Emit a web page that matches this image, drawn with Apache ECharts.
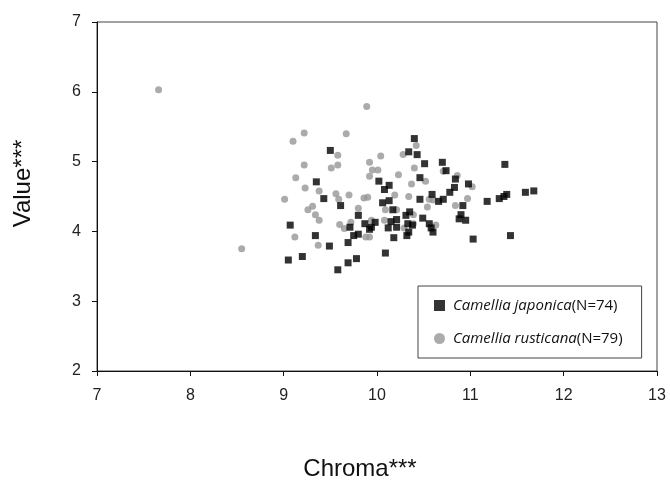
<!DOCTYPE html>
<html>
<head>
<meta charset="utf-8">
<script src="https://cdn.jsdelivr.net/npm/echarts@6/dist/echarts.min.js"></script>
<style>
html, body { margin: 0; padding: 0; background: #ffffff; }
#chart { width: 670px; height: 480px; }
</style>
</head>
<body>
<div id="chart"></div>
<script>
// Camellia japonica (Chroma, Value)
var japonicaChroma = [10.40, 9.50, 10.34, 10.43, 10.51, 10.70, 10.74, 9.35, 10.02, 10.13,
	10.08, 10.46, 10.84, 10.98, 9.43, 9.61, 10.06, 10.13, 10.46, 10.59,
	10.66, 10.71, 10.78, 10.83, 10.92, 10.17, 10.35, 10.31, 9.80, 9.98,
	10.15, 10.21, 10.49, 10.88, 10.95, 9.07, 9.71, 9.87, 9.92, 9.94,
	10.12, 10.21, 10.33, 10.38, 10.34, 10.56, 10.58, 10.60, 9.75, 9.80,
	9.34, 10.18, 10.32, 9.69, 9.49, 10.09, 9.20, 9.05, 9.78, 9.69,
	9.58, 11.37, 11.18, 11.31, 11.36, 11.39, 11.59, 11.68, 11.03, 11.43,
	10.90];
var japonicaValue = [5.33, 5.16, 5.14, 5.10, 4.97, 4.99, 4.87, 4.71, 4.72, 4.66,
	4.60, 4.77, 4.75, 4.68, 4.47, 4.37, 4.41, 4.44, 4.46, 4.53,
	4.43, 4.46, 4.56, 4.63, 4.37, 4.31, 4.28, 4.23, 4.23, 4.13,
	4.14, 4.17, 4.19, 4.18, 4.16, 4.09, 4.06, 4.11, 4.03, 4.06,
	4.05, 4.06, 4.11, 4.09, 3.99, 4.11, 4.05, 3.99, 3.94, 3.96,
	3.94, 3.91, 3.94, 3.84, 3.79, 3.69, 3.64, 3.59, 3.61, 3.55,
	3.45, 4.96, 4.43, 4.47, 4.50, 4.53, 4.56, 4.58, 3.89, 3.94,
	4.24];

// Camellia rusticana (Chroma, Value)
var rusticanaChroma = [7.66, 8.55, 9.01, 9.10, 9.22, 9.67, 9.58, 9.22, 9.51, 9.58,
	9.13, 9.23, 9.38, 9.56, 9.70, 9.59, 9.86, 9.90, 9.31, 9.26,
	9.34, 9.38, 9.80, 9.92, 10.04, 9.95, 10.01, 9.92, 10.23, 10.28,
	10.42, 10.40, 10.37, 10.52, 10.19, 10.34, 10.09, 10.21, 10.39, 10.54,
	10.56, 10.60, 10.84, 10.86, 10.71, 10.97, 9.60, 9.65, 9.72, 9.94,
	10.08, 9.88, 9.92, 9.12, 9.37, 10.29, 10.63, 9.89, 11.02, 10.39];
var rusticanaValue = [6.03, 3.75, 4.46, 5.29, 5.41, 5.40, 5.09, 4.95, 4.91, 4.95,
	4.77, 4.62, 4.58, 4.54, 4.52, 4.46, 4.48, 4.49, 4.36, 4.31,
	4.24, 4.16, 4.33, 4.99, 5.08, 4.88, 4.88, 4.79, 4.81, 5.10,
	5.23, 4.91, 4.68, 4.72, 4.52, 4.50, 4.31, 4.31, 4.24, 4.35,
	4.46, 4.45, 4.37, 4.80, 4.86, 4.47, 4.10, 4.04, 4.13, 4.16,
	4.16, 3.92, 3.92, 3.92, 3.80, 4.05, 4.09, 5.79, 4.64, 4.11];

var seriesNames = ['Camellia japonica', 'Camellia rusticana'];
var seriesN = [74, 79];

function pairs(xs, ys) {
	var res = [];
	for (var i = 0; i < xs.length; i++) {
		res.push([xs[i], ys[i]]);
	}
	return res;
}

var chart = echarts.init(document.getElementById('chart'));

var axisFont = {
	fontFamily: 'Liberation Sans',
	fontSize: 16,
	color: '#222'
};

var option = {
	backgroundColor: '#ffffff',
	animation: false,
	grid: {
		show: true,
		left: 97,
		right: 13,
		top: 22,
		bottom: 109,
		outerBoundsMode: 'none',
		borderColor: '#444',
		borderWidth: 1
	},
	xAxis: {
		type: 'value',
		min: 7,
		max: 13,
		interval: 1,
		name: 'Chroma***',
		nameLocation: 'middle',
		nameGap: 86,
		nameTextStyle: {
			fontFamily: 'Liberation Sans',
			fontSize: 24,
			color: '#111',
			padding: [0, 34, 0, 0]
		},
		axisLine: { lineStyle: { color: '#111', width: 1 } },
		axisTick: { inside: false, length: 5, lineStyle: { color: '#111' } },
		axisLabel: Object.assign({ margin: 17 }, axisFont),
		splitLine: { show: false }
	},
	yAxis: {
		type: 'value',
		min: 2,
		max: 7,
		interval: 1,
		name: 'Value***',
		nameLocation: 'middle',
		nameGap: 62,
		nameTextStyle: {
			fontFamily: 'Liberation Sans',
			fontSize: 24,
			color: '#111',
			padding: [0, 0, 0, 26]
		},
		axisLine: { lineStyle: { color: '#111', width: 1 } },
		axisTick: { inside: false, length: 5, lineStyle: { color: '#111' } },
		axisLabel: Object.assign({ margin: 16 }, axisFont),
		splitLine: { show: false }
	},
	legend: {
		orient: 'vertical',
		left: 418,
		top: 286,
		padding: [12, 19, 12, 16],
		itemGap: 18,
		itemWidth: 11,
		itemHeight: 11,
		borderColor: '#444',
		borderWidth: 1,
		backgroundColor: '#ffffff',
		data: [
			{ name: seriesNames[0], icon: 'rect' },
			{ name: seriesNames[1], icon: 'circle' }
		],
		formatter: function (name) {
			var idx = seriesNames.indexOf(name);
			return '{i|' + name + '}{n|(N=' + seriesN[idx] + ')}';
		},
		textStyle: {
			padding: [0, 0, 0, 3],
			rich: {
				i: { fontFamily: 'Open Sans', fontStyle: 'italic', fontSize: 15, color: '#111' },
				n: { fontFamily: 'Open Sans', fontSize: 15, color: '#111' }
			}
		}
	},
	series: [
		{
			name: seriesNames[0],
			type: 'scatter',
			z: 3,
			symbol: 'rect',
			symbolSize: 7,
			itemStyle: { color: '#000000' },
			data: pairs(japonicaChroma, japonicaValue)
		},
		{
			name: seriesNames[1],
			type: 'scatter',
			z: 2,
			symbol: 'circle',
			symbolSize: 7,
			itemStyle: { color: '#969696' },
			data: pairs(rusticanaChroma, rusticanaValue)
		}
	]
};

chart.setOption(option);
</script>
</body>
</html>
